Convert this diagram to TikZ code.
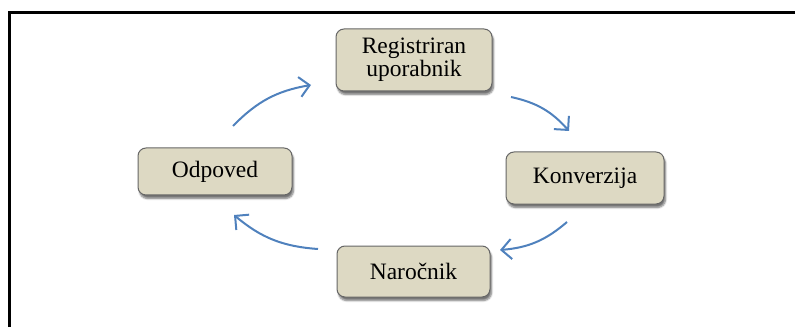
\documentclass[tikz,border=0pt]{standalone}
\usepackage{fontspec}
\setmainfont{Liberation Serif}
\usepackage{tikz}
\usetikzlibrary{arrows.meta,positioning,shadows.blur}
\definecolor{stagefill}{RGB}{221,217,195}
\definecolor{flowblue}{RGB}{79,129,189}
\begin{document}
\begin{tikzpicture}[
    x=1pt, y=1pt,
    stage/.style={rectangle, draw=black!60, line width=1pt, fill=stagefill, align=center,
                  rounded corners=8pt, inner sep=2pt, font=\fontsize{23.5}{23}\selectfont,
                  blur shadow={shadow xshift=1.5pt, shadow yshift=-3.5pt, shadow blur steps=6, shadow opacity=55}},
    flow/.style={-{Straight Barb[length=10pt,width=20pt]}, draw=flowblue, line width=2pt}
]
\useasboundingbox (0,0) rectangle (795,327);
% frame
\draw[line width=3pt] (9,0) -- (9,314) -- (795,314);
% stages
\node[stage, minimum width=156pt, minimum height=62pt] (reg) at (414,267) {Registriran\\uporabnik};
\node[stage, minimum width=158pt, minimum height=52pt] (konv) at (585,149) {Konverzija};
\node[stage, minimum width=153pt, minimum height=51pt] (naroc) at (413.5,55.5) {Naročnik};
\node[stage, minimum width=154pt, minimum height=47pt] (odp) at (215,155.5) {Odpoved};
% arrow ends
\coordinate (a1) at (233,201);
\coordinate (b1) at (311,242);
\coordinate (a2) at (511,230);
\coordinate (b2) at (569,196);
\coordinate (a3) at (567,105);
\coordinate (b3) at (500,77);
\coordinate (a4) at (318,78);
\coordinate (b4) at (234,112);
\draw[flow] (a1) to[bend left=18] (b1);
\draw[flow] (a2) to[bend left=18] (b2);
\draw[flow] (a3) to[bend left=18] (b3);
\draw[flow] (a4) to[bend left=18] (b4);
\end{tikzpicture}
\end{document}
